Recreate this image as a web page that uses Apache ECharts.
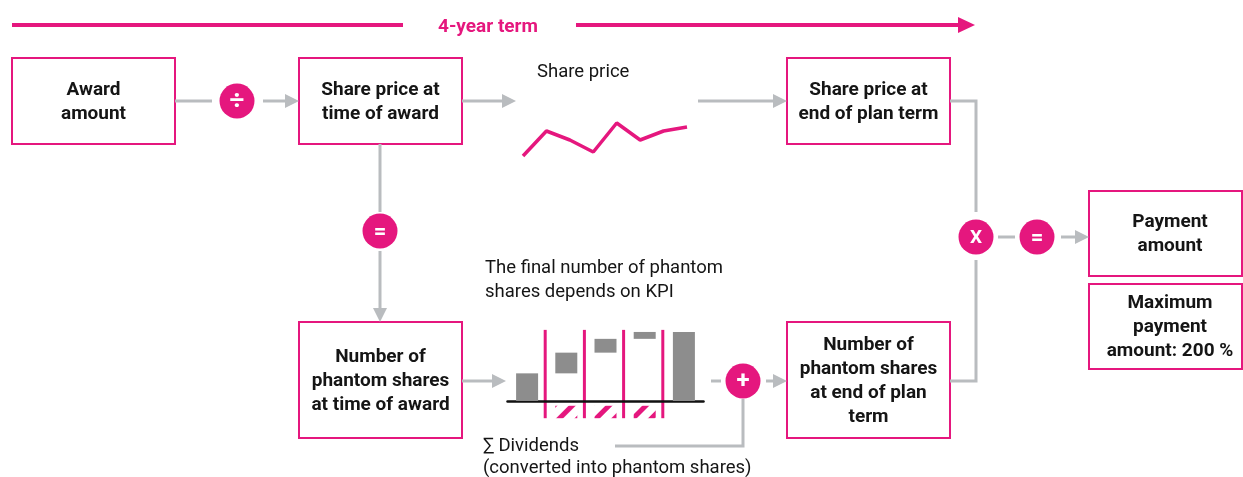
<!DOCTYPE html>
<html><head><meta charset="utf-8">
<script src="https://cdn.jsdelivr.net/npm/echarts@6/dist/echarts.min.js"></script>
<style>html,body{margin:0;padding:0;background:#fff}#c{width:1243px;height:477px}</style>
</head><body><div id="c"></div>
<script>
// ---- data ----
const sharePriceSteps = ['t0','t1','t2','t3','t4','t5','t6','t7'];
const sharePrice = [4, 29, 20, 8, 37, 20, 29, 33];
const kpiStages = ['Start','KPI 1','KPI 2','KPI 3','End'];
const kpiBase = [0, 40, 70, 90, 0];
const kpiValue = [40, 30, 20, 10, 100];
const dividendGap = ['-', -7, -7, -7, '-'];
const dividendValue = ['-', -18, -18, -18, '-'];

// ---- styling ----
const PINK = '#e5177e', GRAY = '#b9bcbf', BLACK = '#151515', BAR = '#8d8d8d';
const BOLD = 'bold 19px Roboto', REG = '18.5px Roboto';
const g = [];
function box(x, y, w, h, text, tx) {
  g.push({type:'rect', shape:{x:x, y:y, width:w, height:h}, style:{fill:'#fff', stroke:PINK, lineWidth:2}});
  g.push({type:'text', x:(tx !== undefined ? tx : x + w/2), y:y + h/2 + 1,
    style:{text:text, fill:BLACK, font:BOLD, align:'center', verticalAlign:'middle', lineHeight:24}});
}
function line(pts, color, w) {
  g.push({type:'polyline', shape:{points:pts}, style:{stroke:color || GRAY, lineWidth:w || 3, fill:null}});
}
function headRight(tip, y, color, len, hw) {
  len = len || 14; hw = hw || 7;
  g.push({type:'polygon', shape:{points:[[tip-len, y-hw],[tip, y],[tip-len, y+hw]]}, style:{fill:color || GRAY}});
}
function headDown(x, tip) {
  g.push({type:'polygon', shape:{points:[[x-7, tip-14],[x, tip],[x+7, tip-14]]}, style:{fill:GRAY}});
}
function op(cx, cy, sym, size) {
  g.push({type:'circle', shape:{cx:cx, cy:cy, r:17.5}, style:{fill:PINK}});
  g.push({type:'text', x:cx, y:cy + 1, style:{text:sym, fill:'#fff', font:'bold ' + (size || 20) + 'px Roboto', align:'center', verticalAlign:'middle'}});
}
function label(x, y, text, lh) {
  g.push({type:'text', x:x, y:y, style:{text:text, fill:BLACK, font:REG, align:'left', verticalAlign:'middle', lineHeight:lh || 24}});
}

// top term bar
line([[12, 25],[403, 25]], PINK, 4);
line([[576, 25],[960, 25]], PINK, 4);
headRight(975, 25, PINK, 17, 8);
g.push({type:'text', x:488, y:27, style:{text:'4-year term', fill:PINK, font:'bold 19px Roboto', align:'center', verticalAlign:'middle'}});

// boxes
box(12, 58, 163, 86, 'Award\namount');
box(299, 58, 163, 86, 'Share price at\ntime of award');
box(787, 58, 163, 86, 'Share price at\nend of plan term');
box(299, 322, 163, 116, 'Number of\nphantom shares\nat time of award');
box(787, 322, 163, 116, 'Number of\nphantom shares\nat end of plan\nterm');
box(1089, 191, 153, 85, 'Payment\namount', 1170);
box(1089, 284, 153, 85, 'Maximum\npayment\namount: 200 %', 1170);

// connectors
line([[175, 101],[212, 101]]);
op(237, 101, '÷', 26);
line([[263, 101],[287, 101]]); headRight(299, 101);
line([[462, 101],[503, 101]]); headRight(516, 101);
line([[698, 101],[775, 101]]); headRight(787, 101);
label(537, 72, 'Share price');

line([[380, 144],[380, 212]]);
op(380, 231, '=', 22);
line([[380, 251],[380, 310]]); headDown(380, 322);

g.push({type:'text', x:485, y:256, style:{text:'The final number of phantom\nshares depends on KPI', fill:BLACK, font:REG, align:'left', verticalAlign:'top', lineHeight:24}});

line([[462, 381],[493, 381]]); headRight(506, 381);
line([[711, 381],[721, 381]]);
op(743, 381, '+', 24);
line([[766, 381],[775, 381]]); headRight(787, 381);
line([[615, 446],[743, 446],[743, 399]]);
label(483, 446, '∑ Dividends');
label(483, 468, '(converted into phantom shares)');

line([[950, 101],[976, 101],[976, 212]]);
line([[976, 260],[976, 381],[950, 381]]);
op(976, 237, 'X', 19);
line([[998, 237],[1015, 237]]);
op(1037, 237, '=', 22);
line([[1061, 237],[1076, 237]]); headRight(1089, 237);

const chart = echarts.init(document.getElementById('c'), null, {renderer:'canvas'});
const hidden = {show:false};
chart.setOption({
  animation:false,
  backgroundColor:'#fff',
  grid:[
    {left:523, top:120, width:164, height:40},
    {left:507.5, top:328.5, width:196, height:89.7}
  ],
  xAxis:[
    {type:'category', gridIndex:0, data:sharePriceSteps, boundaryGap:false, show:false},
    {type:'category', gridIndex:1, data:kpiStages, boundaryGap:true,
     axisLine:{show:true, onZero:true, lineStyle:{color:'#111', width:2.5}},
     axisTick:hidden, axisLabel:hidden, splitLine:hidden}
  ],
  yAxis:[
    {type:'value', gridIndex:0, min:0, max:40, show:false},
    {type:'value', gridIndex:1, min:-25, max:105, show:false}
  ],
  series:[
    {type:'line', xAxisIndex:0, yAxisIndex:0, data:sharePrice, symbol:'none', silent:true,
     lineStyle:{color:PINK, width:3.5}},
    {type:'bar', xAxisIndex:1, yAxisIndex:1, stack:'w', data:kpiBase, barWidth:22, silent:true,
     itemStyle:{color:'rgba(0,0,0,0)'}},
    {type:'bar', xAxisIndex:1, yAxisIndex:1, stack:'w', data:kpiValue, barWidth:22, silent:true,
     itemStyle:{color:BAR}},
    {type:'bar', xAxisIndex:1, yAxisIndex:1, stack:'w', data:dividendGap, barWidth:22, silent:true,
     itemStyle:{color:'rgba(0,0,0,0)'}},
    {type:'bar', xAxisIndex:1, yAxisIndex:1, stack:'w', data:dividendValue, barWidth:18, silent:true,
     itemStyle:{color:'#fff', decal:{symbol:'rect', symbolSize:1, color:PINK, dashArrayX:[1,0], dashArrayY:[5,8], rotation:-Math.PI/4}}}
  ]
});

// KPI period separators at the category band boundaries, located through the axis scale
const yTop = chart.convertToPixel({yAxisIndex:1}, 103);
const yBot = chart.convertToPixel({yAxisIndex:1}, -25);
for (let i = 0; i < kpiStages.length - 1; i++) {
  const a = chart.convertToPixel({xAxisIndex:1}, i);
  const b = chart.convertToPixel({xAxisIndex:1}, i + 1);
  const x = (a + b) / 2 - 1.5;
  g.push({type:'line', shape:{x1:x, y1:yTop, x2:x, y2:yBot}, style:{stroke:PINK, lineWidth:3}});
}
chart.setOption({graphic:{elements:g}});
</script></body></html>
